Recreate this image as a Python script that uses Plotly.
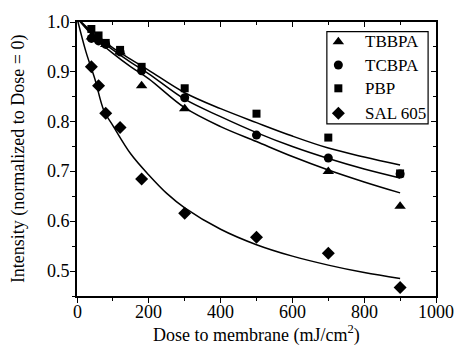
import plotly.graph_objects as go

# Measured data (dose in mJ/cm^2, intensity normalized)
dose = [40, 60, 80, 120, 180, 300, 500, 700, 900]
tbbpa = [0.970, 0.965, 0.955, 0.940, 0.872, 0.826, None, 0.700, 0.630]
tcbpa = [0.967, 0.962, 0.955, 0.940, 0.902, 0.848, 0.773, 0.727, 0.695]
pbp = [0.986, 0.973, 0.958, 0.944, 0.910, 0.867, 0.816, 0.768, 0.696]
sal605 = [0.910, 0.872, 0.817, 0.788, 0.685, 0.616, 0.568, 0.536, 0.467]

# Fitted curves
fit_x = [0, 50, 100, 150, 200, 300, 400, 500, 600, 700, 800, 900]
fit_pbp = [1.008, 0.975, 0.948, 0.925, 0.903, 0.858, 0.826, 0.798, 0.771, 0.747, 0.729, 0.713]
fit_tcbpa = [1.008, 0.972, 0.944, 0.919, 0.896, 0.845, 0.810, 0.778, 0.750, 0.726, 0.705, 0.687]
fit_tbbpa = [1.008, 0.968, 0.937, 0.910, 0.886, 0.828, 0.790, 0.760, 0.730, 0.703, 0.679, 0.657]
sal_x = [0, 25, 50, 75, 100, 150, 200, 250, 300, 400, 500, 600, 700, 800, 900]
fit_sal = [1.008, 0.940, 0.885, 0.822, 0.792, 0.735, 0.693, 0.656, 0.627, 0.584, 0.553, 0.530, 0.512, 0.497, 0.485]

# Tick labels
x_tick_vals = [0, 200, 400, 600, 800, 1000]
x_tick_text = ["0", "200", "400", "600", "800", "1000"]
y_tick_vals = [0.5, 0.6, 0.7, 0.8, 0.9, 1.0]
y_tick_text = ["0.5", "0.6", "0.7", "0.8", "0.9", "1.0"]

# Legend
legend_names = ["TBBPA", "TCBPA", "PBP", "SAL 605"]
legend_symbols = ["triangle-up", "circle", "square", "diamond"]
legend_sizes = [10, 9, 8, 10]

x_title = "Dose to membrane (mJ/cm<sup>2</sup>)"
y_title = "Intensity (normalized to Dose = 0)"

FONT = "Liberation Serif"
tf = dict(family=FONT, size=18, color="black")
lf = dict(family=FONT, size=17, color="black")

fig = go.Figure()

for fx, fy in [(fit_x, fit_pbp), (fit_x, fit_tcbpa), (fit_x, fit_tbbpa), (sal_x, fit_sal)]:
    fig.add_trace(go.Scatter(x=fx, y=fy, mode="lines", line=dict(color="black", width=1.5, shape="spline"),
                             showlegend=False, hoverinfo="skip"))

for name, ys, sym, sz in zip(legend_names, [tbbpa, tcbpa, pbp, sal605], legend_symbols, legend_sizes):
    fig.add_trace(go.Scatter(x=dose, y=ys, mode="markers", name=name, showlegend=False,
                             marker=dict(symbol=sym, size=sz, color="black")))

# invisible trace to activate mirror axes
fig.add_trace(go.Scatter(x=[0], y=[0.45], xaxis="x2", yaxis="y2", mode="markers",
                         marker=dict(opacity=0), showlegend=False, hoverinfo="skip"))

# Manual legend (paper-like overlay axes x3/y3 spanning [0, 1])
leg_x0, leg_x1, leg_y0, leg_y1 = 0.696, 0.978, 0.628, 0.965
leg_rows = [0.928, 0.843, 0.758, 0.667]
fig.add_shape(type="rect", xref="paper", yref="paper", x0=leg_x0, x1=leg_x1, y0=leg_y0, y1=leg_y1,
              line=dict(color="black", width=1.2), fillcolor="white", layer="below")
for name, sym, sz, ry in zip(legend_names, legend_symbols, legend_sizes, leg_rows):
    fig.add_trace(go.Scatter(x=[0.728], y=[ry], xaxis="x3", yaxis="y3", mode="markers",
                             marker=dict(symbol=sym, size=sz, color="black"),
                             showlegend=False, hoverinfo="skip", cliponaxis=False))

annotations = []
for name, ry in zip(legend_names, leg_rows):
    annotations.append(dict(text=name, xref="paper", yref="paper", x=0.797, y=ry, xanchor="left",
                            yanchor="middle", showarrow=False, font=lf))
for v, t in zip(x_tick_vals, x_tick_text):
    annotations.append(dict(text=t, xref="x", yref="paper", x=v, y=0, xanchor="center", yanchor="top",
                            yshift=-4, showarrow=False, font=tf))
for v, t in zip(y_tick_vals, y_tick_text):
    annotations.append(dict(text=t, xref="paper", yref="y", x=0, y=v, xanchor="right", yanchor="middle",
                            xshift=-5, showarrow=False, font=tf))
annotations.append(dict(text=x_title, xref="paper", yref="paper", x=0.5, y=-0.088, xanchor="center",
                        yanchor="top", showarrow=False, font=tf))
annotations.append(dict(text=y_title, xref="paper", yref="paper", x=-0.164, y=0.5, xanchor="center",
                        yanchor="middle", textangle=-90, showarrow=False, font=tf))

axis_common = dict(showgrid=False, zeroline=False, showline=True, linecolor="black", linewidth=1.5,
                   tickcolor="black", tickwidth=1.2, automargin=False, showticklabels=False)

fig.update_layout(
    template="none",
    width=457, height=350,
    margin=dict(l=77, r=21, t=22, b=54),
    paper_bgcolor="white", plot_bgcolor="white",
    font=dict(family=FONT, size=18, color="black"),
    xaxis=dict(range=[0, 1000], dtick=200, ticks="outside", ticklen=5,
               minor=dict(dtick=100, ticks="outside", ticklen=3, tickcolor="black"),
               **axis_common),
    yaxis=dict(range=[0.45, 1.0], dtick=0.1, ticks="outside", ticklen=5,
               minor=dict(dtick=0.05, ticks="outside", ticklen=3, tickcolor="black"),
               **axis_common),
    xaxis2=dict(range=[0, 1000], dtick=200, overlaying="x", side="top", anchor="y",
                ticks="inside", ticklen=5,
                minor=dict(dtick=100, ticks="inside", ticklen=3, tickcolor="black"),
                **axis_common),
    yaxis2=dict(range=[0.45, 1.0], dtick=0.1, overlaying="y", side="right", anchor="x",
                ticks="inside", ticklen=5,
                minor=dict(dtick=0.05, ticks="inside", ticklen=3, tickcolor="black"),
                **axis_common),
    xaxis3=dict(range=[0, 1], overlaying="x", visible=False, fixedrange=True),
    yaxis3=dict(range=[0, 1], overlaying="y", visible=False, fixedrange=True),
    showlegend=False,
    annotations=annotations,
)

fig.write_html("out.html", post_script="document.body.style.margin='0';",
               config={"displayModeBar": False})
